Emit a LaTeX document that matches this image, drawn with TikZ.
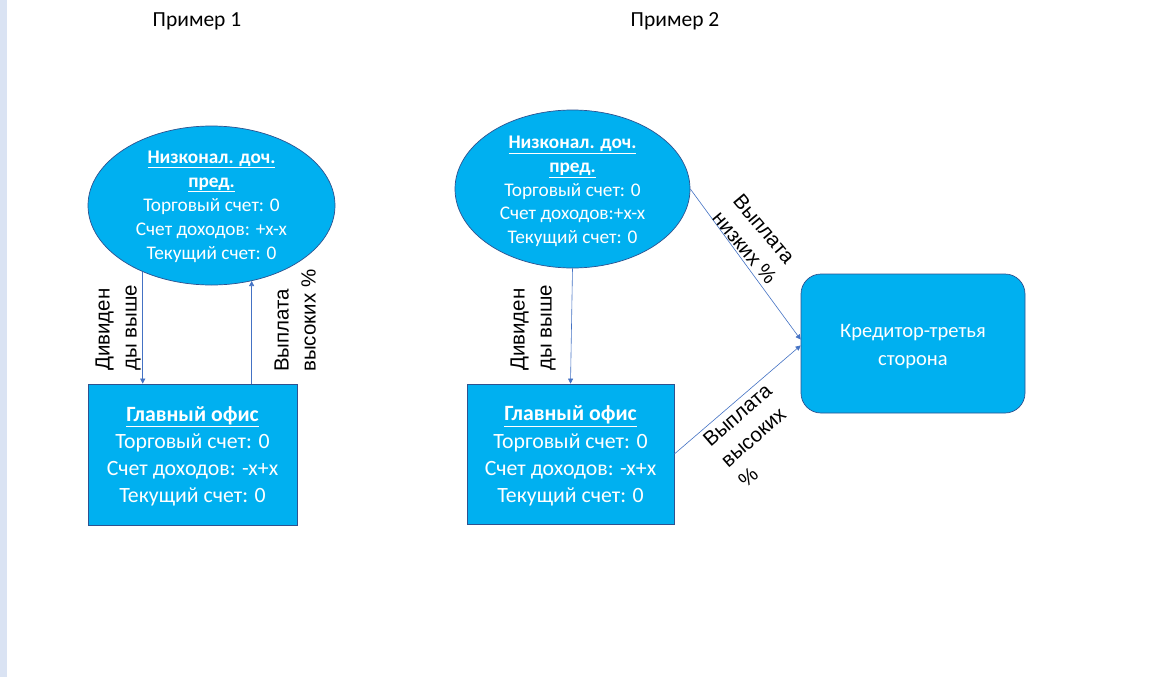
\documentclass[tikz,border=0pt]{standalone}
\usepackage{fontspec}
\setmainfont{Carlito}
\newfontfamily\labelfont{Liberation Sans}
\usetikzlibrary{shapes.geometric,arrows.meta,calc}
\definecolor{boxfill}{HTML}{00B0F0}
\definecolor{boxedge}{HTML}{2F528F}
\definecolor{linkcol}{HTML}{4472C4}
\definecolor{sidebar}{HTML}{DAE3F3}
\tikzset{
  unit/.style={draw=boxedge, line width=0.7pt, fill=boxfill},
  subsid/.style={unit, ellipse, inner sep=0pt},
  office/.style={unit, rectangle, inner sep=0pt},
  creditor/.style={unit, rectangle, rounded corners=20pt, inner sep=0pt},
  inside/.style={text=white, align=center, inner sep=0pt},
  flow/.style={draw=linkcol, line width=0.6pt, -{Triangle[length=5pt,width=5pt]}},
  flowlabel/.style={align=left, inner sep=0pt, font=\labelfont\fontsize{20.5}{27}\selectfont},
  heading/.style={inner sep=0pt, font=\fontsize{21.5}{26}\selectfont}
}
\newcommand{\ttl}[1]{\underline{\textbf{#1}}}
\begin{document}
\begin{tikzpicture}[x=1pt,y=1pt]
  \useasboundingbox (0,0) rectangle (1175,-677);
  \fill[white] (0,0) rectangle (1175,-677);
  \fill[sidebar] (0,0) rectangle (7,-677);

  % headings
  \node[heading] (h1) at (197,-21) {Пример 1};
  \node[heading] (h2) at (675,-21) {Пример 2};

  % ---- example 1 ----
  \node[subsid, minimum width=247pt, minimum height=159pt] (sub1) at (211.5,-205.5) {};
  \node[inside, font=\fontsize{19.3}{24}\selectfont] (sub1txt) at ($(sub1.center)+(0,-1)$)
    {\ttl{Низконал. доч.}\\ \ttl{пред.}\\ Торговый счет: 0\\ Счет доходов: +x-x\\ Текущий счет: 0};
  \node[office, minimum width=209pt, minimum height=141pt] (ho1) at (192.5,-454.5) {};
  \node[inside, font=\fontsize{21.8}{27.2}\selectfont] (ho1txt) at ($(ho1.center)+(0,-2)$)
    {\ttl{Главный офис}\\ Торговый счет: 0\\ Счет доходов: -x+x\\ Текущий счет: 0};

  \draw[flow] (sub1.224) -- (sub1.224 |- ho1.north);
  \draw[flow] (ho1.north -| sub1.298) -- (sub1.298);

  \node[flowlabel, rotate=90, anchor=south west] (l1) at (141,-371) {Дивиден\\ды выше};
  \node[flowlabel, rotate=90, anchor=south west] (l2) at (316,-372) {Выплата\\высоких \%};

  % ---- example 2 ----
  \node[subsid, minimum width=235pt, minimum height=158pt] (sub2) at (572.5,-189) {};
  \node[inside, font=\fontsize{19.3}{23.6}\selectfont] (sub2txt) at ($(sub2.center)+(0,-2.5)$)
    {\ttl{Низконал. доч.}\\ \ttl{пред.}\\ Торговый счет: 0\\ Счет доходов:+x-x\\ Текущий счет: 0};
  \node[office, minimum width=207pt, minimum height=140pt] (ho2) at (570.5,-454) {};
  \node[inside, font=\fontsize{21.8}{27.2}\selectfont] (ho2txt) at ($(ho2.center)+(0,-2)$)
    {\ttl{Главный офис}\\ Торговый счет: 0\\ Счет доходов: -x+x\\ Текущий счет: 0};
  \node[creditor, minimum width=224pt, minimum height=139pt] (cred) at (913,-343.5) {};
  \node[inside, font=\fontsize{20.5}{28}\selectfont] (credtxt) at ($(cred.center)+(0,-3)$)
    {Кредитор-третья\\ сторона};

  \draw[flow] (sub2.south) -- (ho2.north);
  \draw[flow] (sub2.east) -- (cred.178);
  \draw[flow] (ho2.east) -- (cred.181);

  \node[flowlabel, rotate=90, anchor=south west] (l3) at (556,-371) {Дивиден\\ды выше};
  \node[flowlabel, rotate=-50] (l4) at (755,-239) {Выплата\\низких \%};
  \node[flowlabel, rotate=41, anchor=north west] (l5) at (701,-437) {Выплата\\высоких\\\%};
\end{tikzpicture}
\end{document}
